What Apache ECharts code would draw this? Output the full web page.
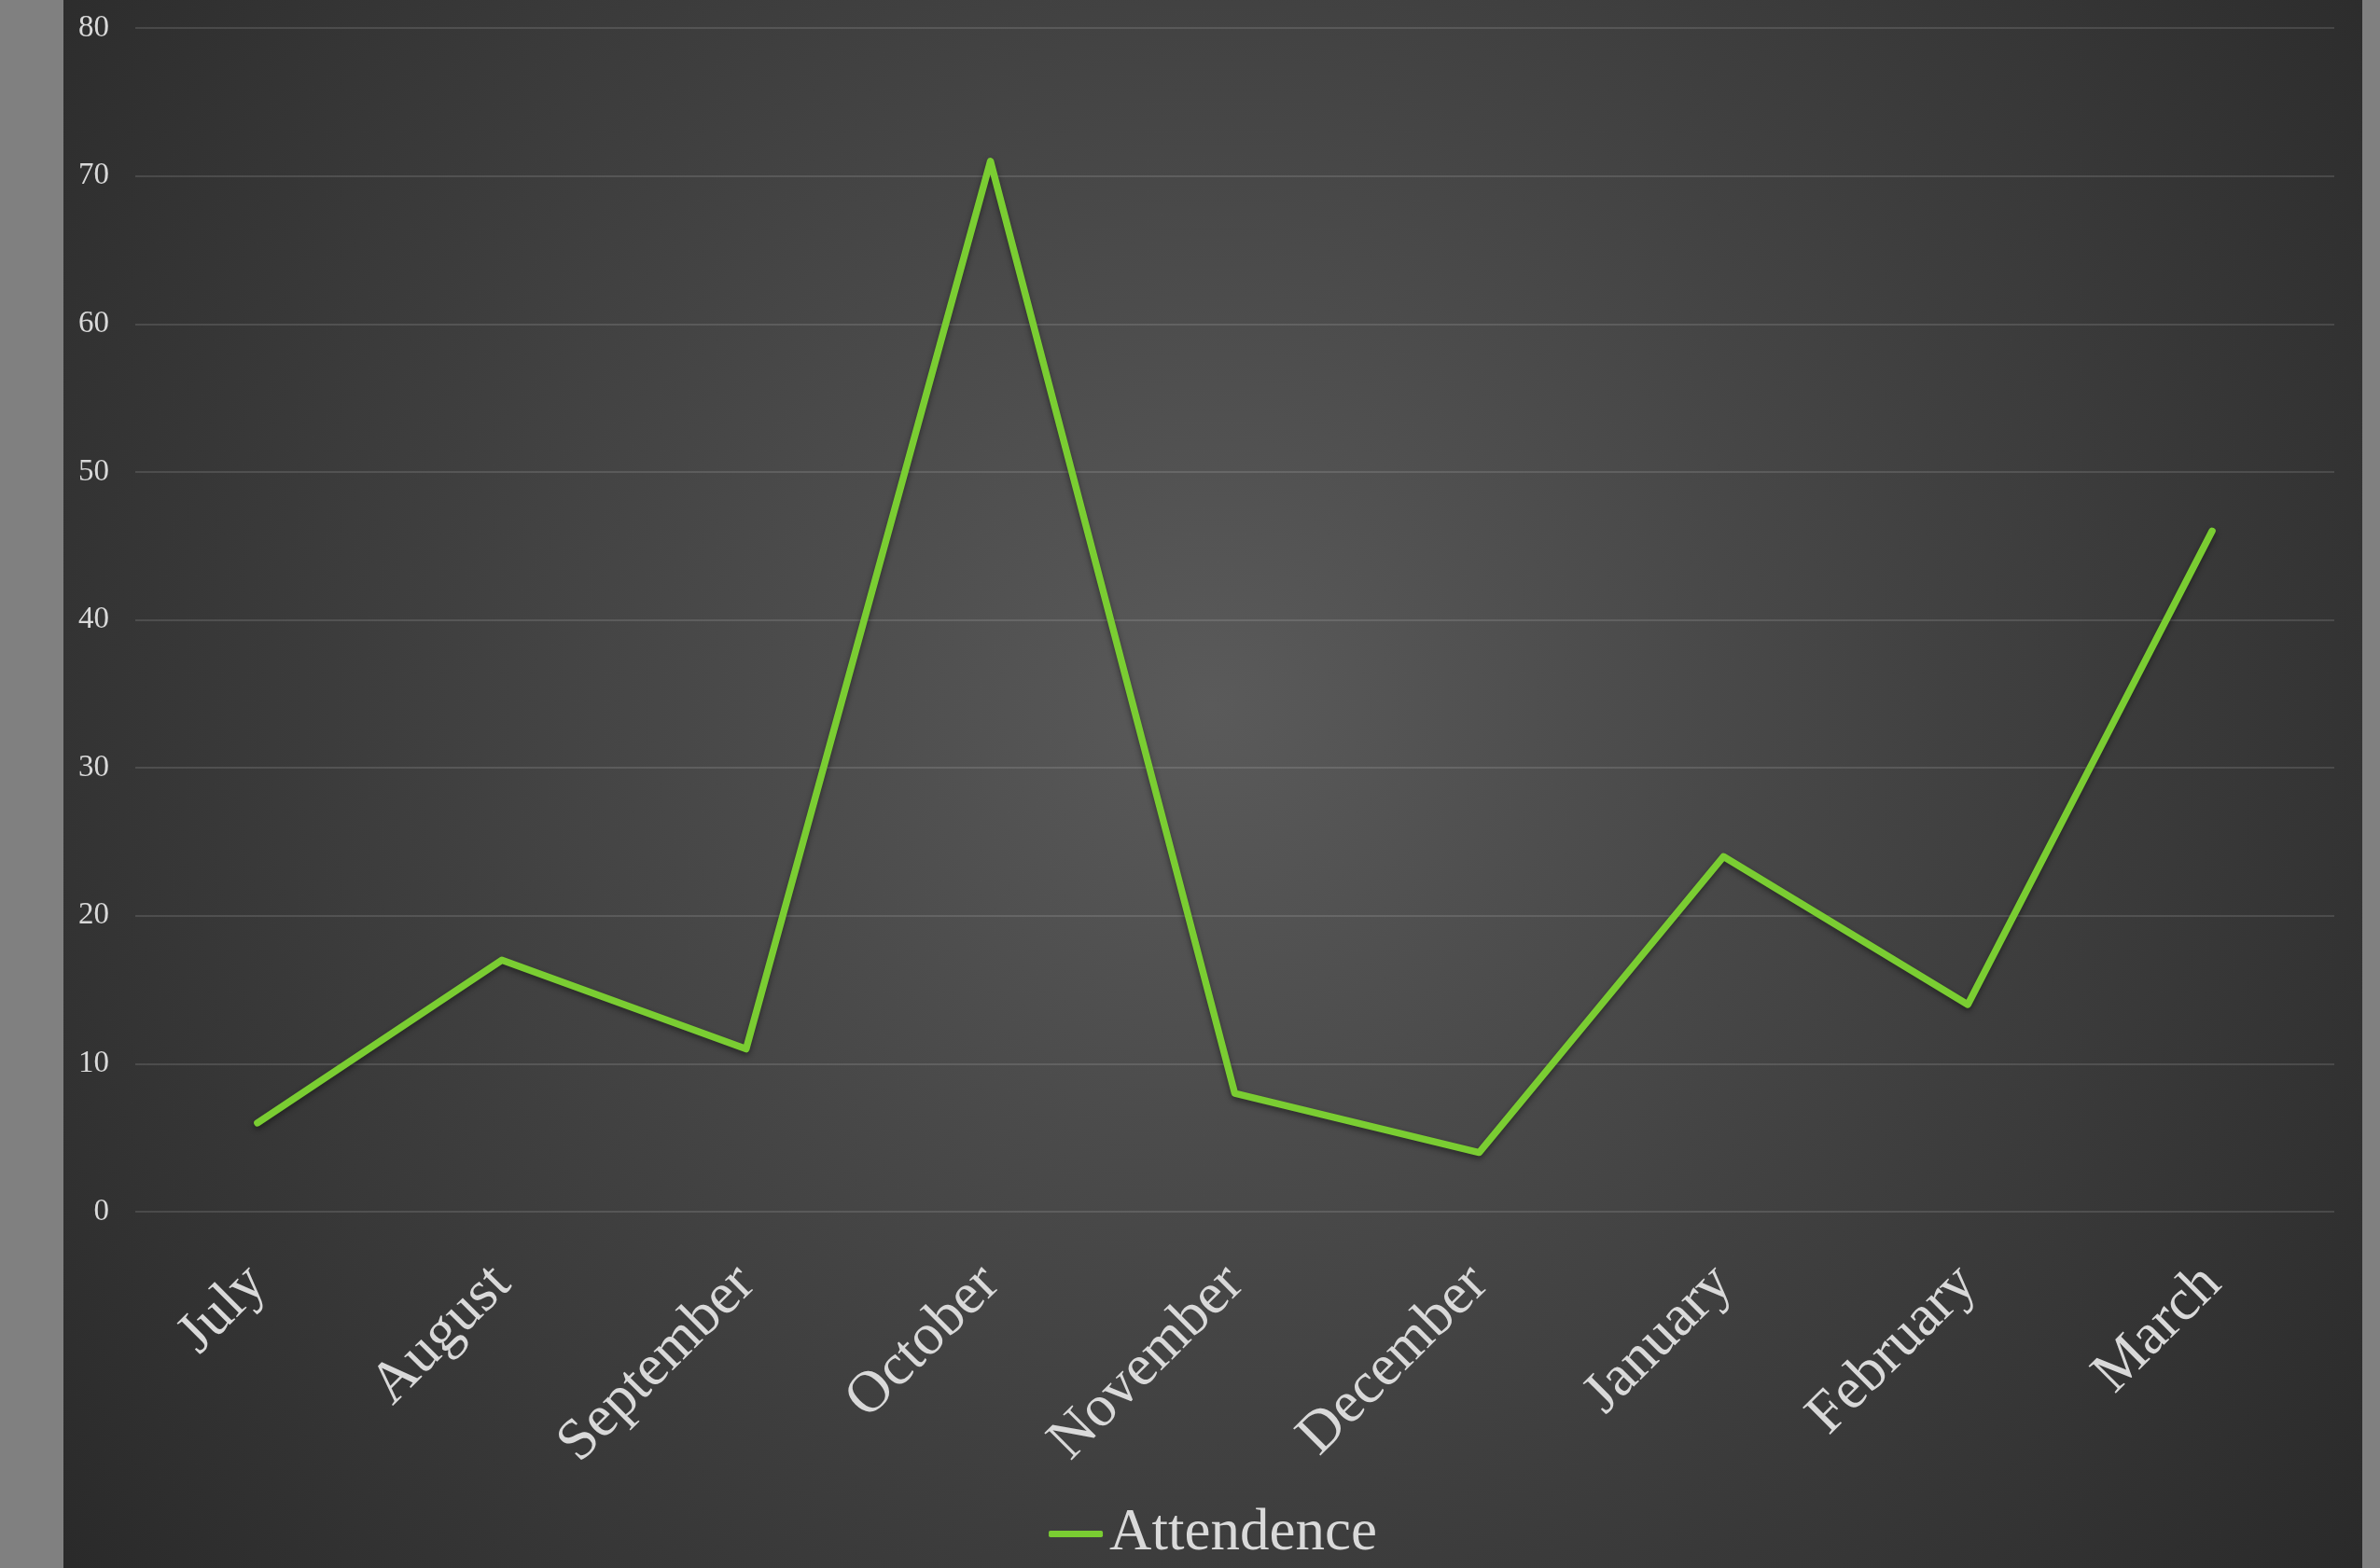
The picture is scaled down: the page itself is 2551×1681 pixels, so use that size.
<!DOCTYPE html>
<html>
<head>
<meta charset="utf-8">
<script src="https://cdn.jsdelivr.net/npm/echarts@6/dist/echarts.min.js"></script>
<style>
html,body{margin:0;padding:0;background:#808080;width:2551px;height:1681px;overflow:hidden;}
#chart{position:absolute;left:68px;top:0;width:2464px;height:1681px;}
</style>
</head>
<body>
<div id="chart"></div>
<script>
var categories = ['July','August','September','October','November','December','January','February','March'];
var attendance = [6, 17, 11, 71, 8, 4, 24, 14, 46];
var seriesName = 'Attendence';
var yMin = 0, yMax = 80, yInterval = 10;

var chart = echarts.init(document.getElementById('chart'), null, {renderer:'canvas'});
var font = '"Liberation Serif", "Times New Roman", serif';
chart.setOption({
  backgroundColor: {
    type: 'radial', x: 0.5, y: 0.45, r: 0.95,
    colorStops: [
      {offset: 0, color: '#5a5a5a'},
      {offset: 0.55, color: '#3e3e3e'},
      {offset: 1, color: '#282828'}
    ]
  },
  animation: false,
  grid: {left: 77, right: 30, top: 30, bottom: 382, containLabel: false},
  xAxis: {
    type: 'category',
    data: categories,
    boundaryGap: true,
    axisLine: {show: false},
    axisTick: {show: false},
    axisLabel: {rotate: 45, margin: 68, color: '#d9d9d9', fontFamily: font, fontSize: 63, interval: 0}
  },
  yAxis: {
    type: 'value', min: yMin, max: yMax, interval: yInterval,
    axisLine: {show: false}, axisTick: {show: false},
    axisLabel: {color: '#d9d9d9', fontFamily: font, fontSize: 33, margin: 28},
    splitLine: {lineStyle: {color: 'rgba(255,255,255,0.12)', width: 2}}
  },
  legend: {
    data: [seriesName],
    bottom: 0,
    left: 'center',
    itemWidth: 58, itemHeight: 7, itemGap: 0,
    icon: 'roundRect',
    textStyle: {color: '#d9d9d9', fontFamily: font, fontSize: 63, padding: [0,0,0,2]}
  },
  series: [{
    name: seriesName,
    type: 'line',
    data: attendance,
    symbol: 'none',
    lineStyle: {color: '#7acd32', width: 7.5, cap: 'round', join: 'round',
      shadowColor: 'rgba(0,0,0,0.45)', shadowBlur: 6, shadowOffsetY: 3},
    itemStyle: {color: '#7acd32'}
  }]
});
</script>
</body>
</html>
